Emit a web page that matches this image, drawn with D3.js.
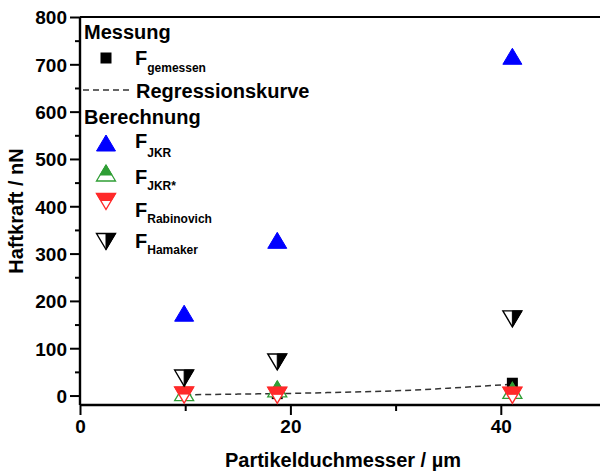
<!DOCTYPE html>
<html>
<head>
<meta charset="utf-8">
<script src="https://cdn.jsdelivr.net/npm/d3@7"></script>
<style>
  html, body { margin: 0; padding: 0; background: #fff; }
  svg { display: block; }
  text { font-family: "Liberation Sans", Arial, sans-serif; font-weight: bold; fill: #000; }
</style>
</head>
<body>
<svg id="chart" width="600" height="475"></svg>
<script>
// ---- data ----
const diameters   = [9.9, 18.75, 41.1];          // Partikelduchmesser / µm
const fGemessen   = [3, 4, 26];                  // measured
const fJKR        = [174, 328, 717];
const fJKRstar    = [6, 14, 11];
const fRabinovich = [1, 0.5, 0.5];
const fHamaker    = [37, 71, 162];
const regX        = [10, 15, 20, 25, 30, 35, 41.1];
const regY        = [1.5, 3, 4.5, 7, 10, 15.5, 24];
const xTicks      = [0, 20, 40];
const xMinor      = [10, 30, 50];
const yTicks      = [0, 100, 200, 300, 400, 500, 600, 700, 800];
const yMinor      = [50, 150, 250, 350, 450, 550, 650, 750];

const svg = d3.select("#chart");
const x = d3.scaleLinear().domain([0, 50]).range([80, 606]);
const y = d3.scaleLinear().domain([-20, 800]).range([405, 17]);

const BLUE = "#0000ff", GREEN = "#2f9e35", RED = "#ff2a2a", BLACK = "#000";

// ---- axes ----
const axisG = svg.append("g");
// frame top line
axisG.append("line").attr("x1", x(0)).attr("x2", 620).attr("y1", y(800)).attr("y2", y(800))
  .attr("stroke", BLACK).attr("stroke-width", 2);

const yAxis = d3.axisLeft(y).tickValues(yTicks).tickSize(10).tickPadding(3).tickFormat(d3.format("d"));
const yg = svg.append("g").attr("transform", `translate(${x(0)},0)`).call(yAxis);
yg.select(".domain").attr("stroke-width", 2.4).attr("d", `M0,${y(800)}V${y(-20)}`);
yg.selectAll(".tick line").attr("stroke-width", 2);
yg.selectAll(".tick text").style("font-size", "19px").attr("dy", "0.36em");
svg.append("g").attr("transform", `translate(${x(0)},0)`)
  .call(d3.axisLeft(y).tickValues(yMinor).tickSize(5).tickFormat(""))
  .call(g => { g.select(".domain").remove(); g.selectAll(".tick line").attr("stroke-width", 2); });

const xAxis = d3.axisBottom(x).tickValues(xTicks).tickSize(10).tickPadding(4).tickFormat(d3.format("d"));
const xg = svg.append("g").attr("transform", `translate(0,${y(-20)})`).call(xAxis);
xg.select(".domain").attr("stroke-width", 2.4).attr("d", `M${x(0)},0H620`);
xg.selectAll(".tick line").attr("stroke-width", 2);
xg.selectAll(".tick text").style("font-size", "19px").attr("dy", "0.72em");
svg.append("g").attr("transform", `translate(0,${y(-20)})`)
  .call(d3.axisBottom(x).tickValues(xMinor).tickSize(6).tickFormat(""))
  .call(g => { g.select(".domain").remove(); g.selectAll(".tick line").attr("stroke-width", 2); });

// axis titles
svg.append("text").attr("x", 343).attr("y", 467).attr("text-anchor", "middle")
  .style("font-size", "20px").text("Partikelduchmesser / µm");
svg.append("text").attr("transform", `translate(23,${(y(800)+y(-20))/2}) rotate(-90)`)
  .attr("text-anchor", "middle").style("font-size", "20px").text("Haftkraft / nN");

// ---- marker helpers ----
const W = 19, H = 16;
function upTri(g, cx, cy, color, mode) {
  const a = H / 2, b = H / 2;
  const full = `M${cx},${cy - a}L${cx + W / 2},${cy + b}L${cx - W / 2},${cy + b}Z`;
  if (mode === "full") {
    g.append("path").attr("d", full).attr("fill", color).attr("stroke", color).attr("stroke-width", 1);
  } else { // top part filled
    g.append("path").attr("d", full).attr("fill", "#fff").attr("stroke", color).attr("stroke-width", 1.3);
    const m = cy + 2;
    const xr = (W / 2) * (m - (cy - a)) / (a + b);
    g.append("path").attr("d", `M${cx},${cy - a}L${cx + xr},${m}L${cx - xr},${m}Z`)
      .attr("fill", color).attr("stroke", color).attr("stroke-width", 1);
  }
}
function downTri(g, cx, cy, color, mode) {
  const a = H / 2, b = H / 2;
  const full = `M${cx - W / 2},${cy - a}L${cx + W / 2},${cy - a}L${cx},${cy + b}Z`;
  g.append("path").attr("d", full).attr("fill", "#fff").attr("stroke", color).attr("stroke-width", 1.4);
  if (mode === "top") {
    const m = cy - 1;
    const xr = (W / 2) * ((cy + b) - m) / (a + b);
    g.append("path").attr("d", `M${cx - W / 2},${cy - a}L${cx + W / 2},${cy - a}L${cx + xr},${m}L${cx - xr},${m}Z`)
      .attr("fill", color).attr("stroke", color).attr("stroke-width", 1);
  } else if (mode === "right") {
    g.append("path").attr("d", `M${cx},${cy - a}L${cx + W / 2},${cy - a}L${cx},${cy + b}Z`)
      .attr("fill", color).attr("stroke", color).attr("stroke-width", 1);
  }
}
function square(g, cx, cy) {
  g.append("rect").attr("x", cx - 5.5).attr("y", cy - 5.5).attr("width", 11).attr("height", 11).attr("fill", BLACK);
}

// ---- data marks ----
const plot = svg.append("g");
// regression curve
const line = d3.line().x(d => x(d[0])).y(d => y(d[1])).curve(d3.curveMonotoneX);
plot.append("path").datum(regX.map((v, i) => [v, regY[i]])).attr("d", line)
  .attr("fill", "none").attr("stroke", "#333").attr("stroke-width", 1.5).attr("stroke-dasharray", "6,4");

diameters.forEach((d, i) => square(plot, x(d), y(fGemessen[i])));
diameters.forEach((d, i) => upTri(plot, x(d), y(fJKR[i]), BLUE, "full"));
diameters.forEach((d, i) => upTri(plot, x(d), y(fJKRstar[i]), GREEN, "top"));
diameters.forEach((d, i) => downTri(plot, x(d), y(fRabinovich[i]), RED, "top"));
diameters.forEach((d, i) => downTri(plot, x(d), y(fHamaker[i]), BLACK, "right"));

// ---- legend ----
const lg = svg.append("g");
const LX = 106, TX = 135;
lg.append("text").attr("x", 84).attr("y", 39).style("font-size", "20px").text("Messung");
square(lg, LX, 58);
function fLabel(yb, sub, subdy) {
  const t = lg.append("text").attr("x", TX).attr("y", yb).style("font-size", "20px");
  t.append("tspan").text("F");
  t.append("tspan").attr("dy", subdy).style("font-size", "12px").text(sub);
}
fLabel(65, "gemessen", 7);
lg.append("line").attr("x1", 83).attr("x2", 131).attr("y1", 90).attr("y2", 90)
  .attr("stroke", "#333").attr("stroke-width", 1.5).attr("stroke-dasharray", "6,4");
lg.append("text").attr("x", 136).attr("y", 98).style("font-size", "20px").text("Regressionskurve");
lg.append("text").attr("x", 84).attr("y", 124).style("font-size", "20px").text("Berechnung");
upTri(lg, LX, 143, BLUE, "full");
fLabel(148, "JKR", 9);
upTri(lg, LX, 173, GREEN, "top");
fLabel(184, "JKR*", 6);
downTri(lg, LX, 201.5, RED, "top");
fLabel(217, "Rabinovich", 6);
downTri(lg, LX, 241.5, BLACK, "right");
fLabel(248, "Hamaker", 6);
</script>
</body>
</html>
